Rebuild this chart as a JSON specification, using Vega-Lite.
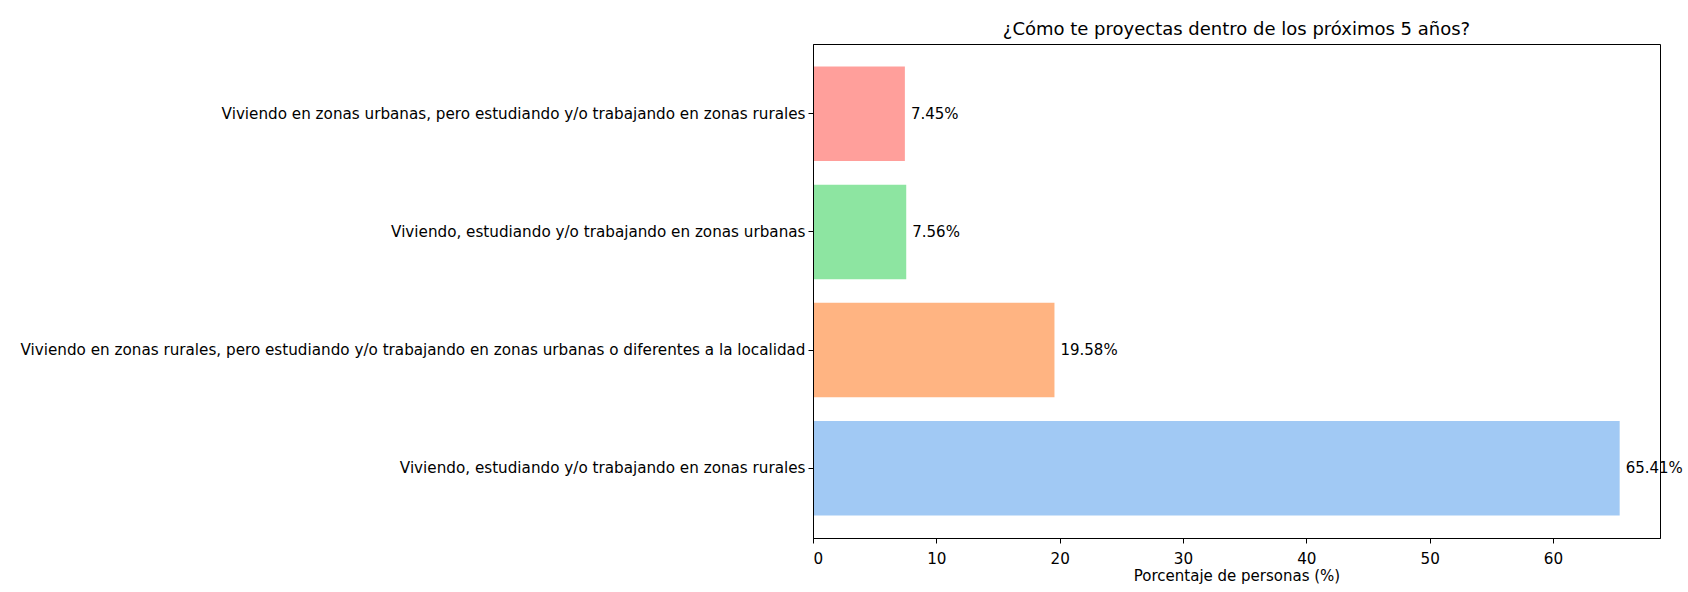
{
  "$schema": "https://vega.github.io/schema/vega-lite/v6.json",
  "autosize": "none",
  "width": 847,
  "height": 494,
  "padding": {"left": 813, "top": 44, "right": 28, "bottom": 54},
  "background": "white",
  "config": {
    "font": "DejaVu Sans",
    "view": {"stroke": "black", "strokeWidth": 1},
    "axis": {"labelFont": "DejaVu Sans", "titleFont": "DejaVu Sans", "labelColor": "black", "titleColor": "black", "tickColor": "black", "domainColor": "black", "labelFontSize": 15.2, "titleFontSize": 15, "titleFontWeight": "normal", "grid": false, "tickSize": 5, "domainWidth": 1, "tickWidth": 1}
  },
  "title": {"text": "¿Cómo te proyectas dentro de los próximos 5 años?", "font": "DejaVu Sans", "fontSize": 18, "fontWeight": "normal", "color": "black", "anchor": "middle", "offset": 5},
  "data": {
    "values": [
      {"respuesta": "Viviendo en zonas urbanas, pero estudiando y/o trabajando en zonas rurales", "porcentaje": 7.45, "etiqueta": "7.45%"},
      {"respuesta": "Viviendo, estudiando y/o trabajando en zonas urbanas", "porcentaje": 7.56, "etiqueta": "7.56%"},
      {"respuesta": "Viviendo en zonas rurales, pero estudiando y/o trabajando en zonas urbanas o diferentes a la localidad", "porcentaje": 19.58, "etiqueta": "19.58%"},
      {"respuesta": "Viviendo, estudiando y/o trabajando en zonas rurales", "porcentaje": 65.41, "etiqueta": "65.41%"}
    ]
  },
  "encoding": {
    "y": {
      "field": "respuesta", "type": "nominal",
      "sort": ["Viviendo en zonas urbanas, pero estudiando y/o trabajando en zonas rurales", "Viviendo, estudiando y/o trabajando en zonas urbanas", "Viviendo en zonas rurales, pero estudiando y/o trabajando en zonas urbanas o diferentes a la localidad", "Viviendo, estudiando y/o trabajando en zonas rurales"],
      "scale": {"paddingInner": 0.2, "paddingOuter": 0.19},
      "axis": {"title": null, "labelLimit": 1000, "labelPadding": 3, "zindex": 2, "domain": true}
    },
    "x": {
      "field": "porcentaje", "type": "quantitative",
      "scale": {"domain": [0, 68.68], "nice": false, "zero": true},
      "axis": {"title": "Porcentaje de personas (%)", "values": [0, 10, 20, 30, 40, 50, 60], "labelPadding": 8, "titlePadding": 2, "zindex": 2}
    }
  },
  "layer": [
    {
      "mark": {"type": "bar"},
      "encoding": {
        "color": {
          "field": "respuesta", "type": "nominal", "legend": null,
          "scale": {
            "domain": ["Viviendo, estudiando y/o trabajando en zonas rurales", "Viviendo en zonas rurales, pero estudiando y/o trabajando en zonas urbanas o diferentes a la localidad", "Viviendo, estudiando y/o trabajando en zonas urbanas", "Viviendo en zonas urbanas, pero estudiando y/o trabajando en zonas rurales"],
            "range": ["#a1c9f4", "#ffb482", "#8de5a1", "#ff9f9b"]
          }
        }
      }
    },
    {
      "mark": {"type": "text", "align": "left", "baseline": "middle", "dx": 6, "fontSize": 15, "font": "DejaVu Sans", "color": "black"},
      "encoding": {"text": {"field": "etiqueta"}}
    }
  ]
}
